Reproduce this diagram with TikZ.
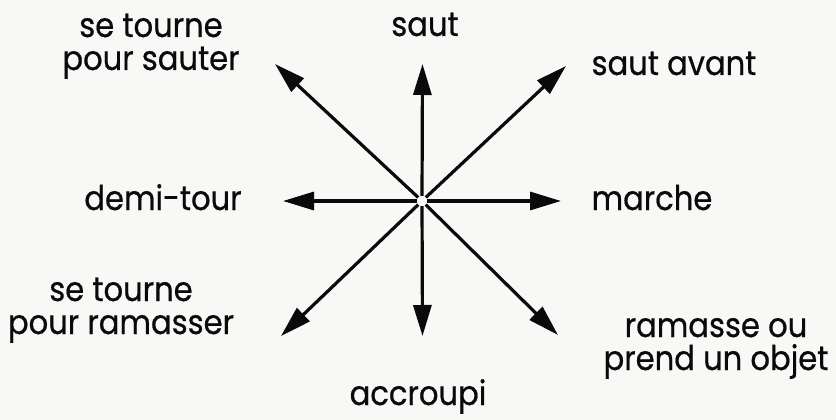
\documentclass[tikz,border=0pt]{standalone}
\usepackage{fontspec}
\setmainfont{Poppins}[FakeStretch=0.9,FakeBold=0.6]
\usetikzlibrary{arrows.meta}
\definecolor{paper}{RGB}{248,248,246}
\definecolor{ink}{RGB}{10,10,10}
\begin{document}
\begin{tikzpicture}[x=1pt,y=-1pt,
  arr/.style={line width=3.2pt,draw=ink,-{Triangle[length=31pt,width=18pt]}},
  lbl/.style={anchor=base,align=center,text=ink,font=\fontsize{34}{33}\selectfont,inner sep=0pt},
  hub/.style={circle,inner sep=0pt,minimum size=10pt}]
\fill[paper] (0,0) rectangle (836,420);
\useasboundingbox (0,0) rectangle (836,420);
\node[hub] (c) at (422,201) {};
\coordinate (tU) at (422.5,64);
\coordinate (tUR) at (566,66);
\coordinate (tR) at (561,201);
\coordinate (tDR) at (558,335);
\coordinate (tD) at (422.5,336);
\coordinate (tDL) at (281,336);
\coordinate (tL) at (283,201);
\coordinate (tUL) at (275,64);
\foreach \t in {tU,tUR,tR,tDR,tD,tDL,tL,tUL} \draw[arr] (c) -- (\t);
\node[lbl] (saut) at (425,36) {saut};
\node[lbl] (sts) at (151,70) {se tourne\\pour sauter};
\node[lbl] (sav) at (674,75) {saut avant};
\node[lbl] (demi) at (163,210) {demi-tour};
\node[lbl] (march) at (652,210) {marche};
\node[lbl] (str) at (121,334) {se tourne\\pour ramasser};
\node[lbl] (ram) at (716,370) {ramasse ou\\prend un objet};
\node[lbl] (acc) at (418,405) {accroupi};
\end{tikzpicture}
\end{document}
